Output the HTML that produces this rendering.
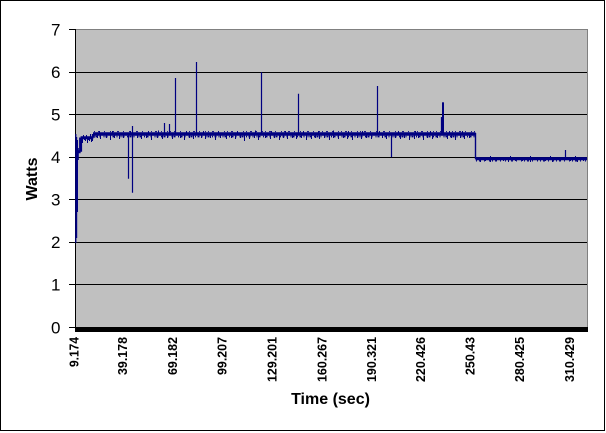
<!DOCTYPE html>
<html>
<head>
<meta charset="utf-8">
<style>
  html,body{margin:0;padding:0;background:#fff;}
  svg{display:block;}
  text{font-family:"Liberation Sans",Arial,sans-serif;fill:#000;}
</style>
</head>
<body>
<svg width="606" height="433" viewBox="0 0 606 433" xmlns="http://www.w3.org/2000/svg">
  <rect x="0" y="0" width="606" height="433" fill="#fff"/>
  <!-- outer border -->
  <rect x="0.5" y="0.5" width="604" height="430" fill="none" stroke="#000" stroke-width="1" shape-rendering="crispEdges"/>

  <!-- plot area -->
  <rect x="76" y="29" width="512" height="298" fill="#C0C0C0" shape-rendering="crispEdges"/>
  <line x1="76" y1="29.5" x2="588" y2="29.5" stroke="#808080" stroke-width="1" shape-rendering="crispEdges"/>
  <line x1="587.5" y1="29" x2="587.5" y2="327" stroke="#808080" stroke-width="1" shape-rendering="crispEdges"/>

  <!-- gridlines -->
  <g stroke="#000" stroke-width="1" shape-rendering="crispEdges">
    <line x1="76" y1="72.5" x2="587" y2="72.5"/>
    <line x1="76" y1="114.5" x2="587" y2="114.5"/>
    <line x1="76" y1="157.5" x2="587" y2="157.5"/>
    <line x1="76" y1="199.5" x2="587" y2="199.5"/>
    <line x1="76" y1="242.5" x2="587" y2="242.5"/>
    <line x1="76" y1="284.5" x2="587" y2="284.5"/>
  </g>

  <!-- y axis -->
  <g stroke="#000" stroke-width="1" shape-rendering="crispEdges">
    <line x1="75.5" y1="29" x2="75.5" y2="331"/>
    <line x1="69" y1="29.5" x2="76" y2="29.5"/>
    <line x1="69" y1="72.5" x2="76" y2="72.5"/>
    <line x1="69" y1="114.5" x2="76" y2="114.5"/>
    <line x1="69" y1="157.5" x2="76" y2="157.5"/>
    <line x1="69" y1="199.5" x2="76" y2="199.5"/>
    <line x1="69" y1="242.5" x2="76" y2="242.5"/>
    <line x1="69" y1="284.5" x2="76" y2="284.5"/>
    <line x1="69" y1="327.5" x2="76" y2="327.5"/>
  </g>
  <!-- x axis (dense tick band) -->
  <rect x="75" y="327" width="513" height="5" fill="#000" shape-rendering="crispEdges"/>

  <!-- y labels -->
  <g font-size="17" text-anchor="end">
    <text x="60.5" y="35.5">7</text>
    <text x="60.5" y="78">6</text>
    <text x="60.5" y="120.5">5</text>
    <text x="60.5" y="163">4</text>
    <text x="60.5" y="205.5">3</text>
    <text x="60.5" y="248">2</text>
    <text x="60.5" y="290.5">1</text>
    <text x="60.5" y="333.5">0</text>
  </g>

  <!-- x labels -->
  <g font-size="13" font-weight="bold" text-anchor="end">
    <text transform="translate(78.5,337) rotate(-90)" textLength="30" lengthAdjust="spacingAndGlyphs">9.174</text>
    <text transform="translate(127.2,337) rotate(-90)" textLength="38" lengthAdjust="spacingAndGlyphs">39.178</text>
    <text transform="translate(177.2,337) rotate(-90)" textLength="38" lengthAdjust="spacingAndGlyphs">69.182</text>
    <text transform="translate(226.5,337) rotate(-90)" textLength="38" lengthAdjust="spacingAndGlyphs">99.207</text>
    <text transform="translate(276.5,337) rotate(-90)" textLength="45" lengthAdjust="spacingAndGlyphs">129.201</text>
    <text transform="translate(326.5,337) rotate(-90)" textLength="45" lengthAdjust="spacingAndGlyphs">160.267</text>
    <text transform="translate(375.8,337) rotate(-90)" textLength="45" lengthAdjust="spacingAndGlyphs">190.321</text>
    <text transform="translate(425,337) rotate(-90)" textLength="45" lengthAdjust="spacingAndGlyphs">220.426</text>
    <text transform="translate(474.5,337) rotate(-90)" textLength="38" lengthAdjust="spacingAndGlyphs">250.43</text>
    <text transform="translate(524.2,337) rotate(-90)" textLength="45" lengthAdjust="spacingAndGlyphs">280.425</text>
    <text transform="translate(574,337) rotate(-90)" textLength="45" lengthAdjust="spacingAndGlyphs">310.429</text>
  </g>

  <!-- axis titles -->
  <text x="330.5" y="404" font-size="16" font-weight="bold" text-anchor="middle">Time (sec)</text>
  <text transform="translate(37,179) rotate(-90)" font-size="16" font-weight="bold" text-anchor="middle">Watts</text>

  <!-- data series -->
  <g stroke="#000080" fill="none">
    <!-- initial transient -->
    <path stroke-width="1.2" d="M75.8,134 V243 M76.6,137 V238 M77.4,140 V212 M78.2,148 V160"/>
    <path stroke-width="3" d="M77,151.8 H80.6 M80.6,151.8 V137.5"/>
    <path stroke-width="3" d="M80.6,137.8 H93.3 M93.3,137.8 V134"/>
    <path stroke-width="1" d="M82.5,137 V143 M85.5,137 V141 M87.5,137 V143 M89.5,137 V141 M91.5,137 V142 M83.5,137 V135 M86.5,137 V135 M90.5,137 V134 M84.5,137V140 M88.5,137V140 M92.5,137V141"/>
    <!-- upper plateau -->
    <path stroke-width="3.6" d="M93,134 H475.5"/>
    <path stroke-width="1.6" stroke-dasharray="1 1.5 2 2 1 3 1 1 2 2.5" d="M93,136.6 H475"/>
    <path stroke-width="1" stroke-dasharray="1 3 2 4 1 5 1 2" d="M94,131.6 H475"/>
    <path stroke-width="1" d="M97.5,134V138M100.5,134V139M106.5,134V138M110.5,134V140M114.5,134V138M119.5,134V139M123.5,134V138M137.5,134V138M141.5,134V139M146.5,134V138M151.5,134V140M157.5,134V138M162.5,134V139M167.5,134V138M172.5,134V139M180.5,134V138M184.5,134V140M189.5,134V138M193.5,134V139M201.5,134V138M205.5,134V139M210.5,134V138M215.5,134V140M220.5,134V138M226.5,134V139M231.5,134V138M235.5,134V139M240.5,134V138M244.5,134V141M249.5,134V139M254.5,134V138M258.5,134V140M265.5,134V138M270.5,134V139M274.5,134V138M279.5,134V140M283.5,134V138M287.5,134V139M292.5,134V138M296.5,134V139M301.5,134V138M306.5,134V140M311.5,134V139M315.5,134V138M319.5,134V139M324.5,134V138M329.5,134V140M333.5,134V138M338.5,134V139M343.5,134V138M347.5,134V139M352.5,134V140M357.5,134V138M361.5,134V139M366.5,134V138M371.5,134V139M382.5,134V138M386.5,134V139M395.5,134V138M400.5,134V139M404.5,134V138M409.5,134V140M414.5,134V139M418.5,134V138M423.5,134V140M427.5,134V138M432.5,134V139M437.5,134V138M447.5,134V139M451.5,134V138M455.5,134V140M460.5,134V138M464.5,134V139M469.5,134V138"/>
    <path stroke-width="1" d="M99.5,134V131M112.5,134V131M130.5,134V131M148.5,134V131M158.5,134V130.5M186.5,134V131M203.5,134V131M218.5,134V131M237.5,134V131M255.5,134V130.5M271.5,134V131M285.5,134V131M303.5,134V131M318.5,134V131M333.5,134V130.5M348.5,134V131M362.5,134V131M379.5,134V131M398.5,134V131M415.5,134V131M430.5,134V131M449.5,134V131M462.5,134V131"/>
    <!-- spikes -->
    <path stroke-width="1.2" d="M128.5,134V178.7 M132.5,126V192.7 M164.5,134V123 M169.5,134V124 M175.5,134V78 M196.5,134V62 M261.5,134V72.3 M298.5,134V93.7 M377.5,134V86 M391.5,134V157.3 M441.5,134V117 M565.5,158V150"/>
    <path stroke-width="2" d="M443,134V102.3"/>
    <!-- step down -->
    <path stroke-width="1.4" d="M475.5,133 V159"/>
    <!-- lower plateau -->
    <path stroke-width="3.2" d="M475.5,158.7 H587"/>
    <path stroke-width="1.4" stroke-dasharray="1 2 2 3 1 4 1 2" d="M476,160.8 H587"/>
    <path stroke-width="1" d="M480.5,159V162M485.5,159V161M490.5,159V162M496.5,159V161M503.5,159V161M508.5,159V162M515.5,159V161M522.5,159V161M530.5,159V162M537.5,159V161M545.5,159V161M552.5,159V162M560.5,159V161M570.5,159V161M577.5,159V162M583.5,159V161 M490.5,158V156M510.5,158V156M530.5,158V156M550.5,158V156M575.5,158V156"/>
  </g>
</svg>
</body>
</html>
